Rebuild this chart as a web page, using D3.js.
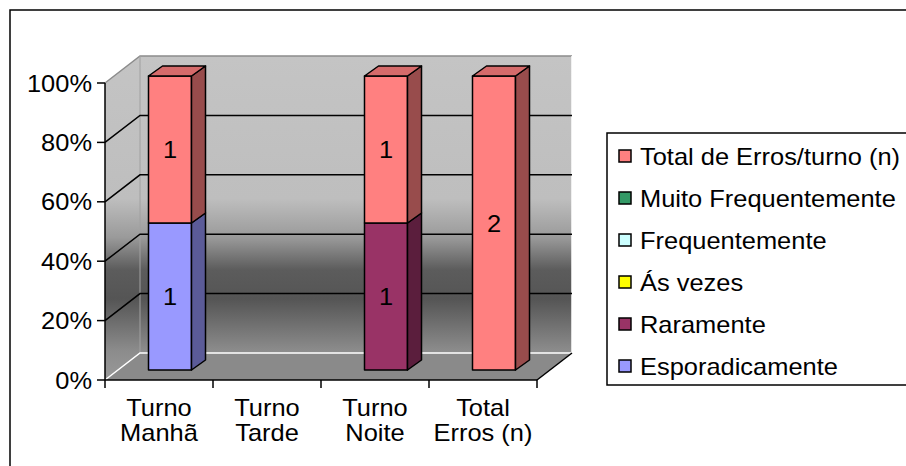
<!DOCTYPE html>
<html>
<head>
<meta charset="utf-8">
<script src="https://cdn.jsdelivr.net/npm/d3@7"></script>
<style>
  body { margin: 0; background: #fff; }
  text { font-family: "Liberation Sans", Arial, sans-serif; fill: #000; }
</style>
</head>
<body>
<div id="chart"></div>
<script>
// categories and series
var categories = ["Turno Manhã", "Turno Tarde", "Turno Noite", "Total Erros (n)"];
var seriesNames = ["Esporadicamente", "Raramente", "Ás vezes", "Frequentemente", "Muito Frequentemente", "Total de Erros/turno (n)"];
var esporadicamente = [1, 0, 0, 0];
var raramente = [0, 0, 1, 0];
var asVezes = [0, 0, 0, 0];
var frequentemente = [0, 0, 0, 0];
var muitoFrequentemente = [0, 0, 0, 0];
var totalErros = [1, 0, 1, 2];
var yTicks = [0, 0.2, 0.4, 0.6, 0.8, 1];

var colors = ["#9999ff", "#993366", "#ffff00", "#ccffff", "#339966", "#ff8080"];

var width = 906, height = 466;
var dx = 35, dy = -27;          // depth of the walls
var bdx = 14, bdy = -10;        // depth of a bar
var sx = 1.06;                  // the text in the original is a bit wide
var fs = "24px";

var svg = d3.select("#chart").append("svg")
    .attr("width", width)
    .attr("height", height);

// outer border
svg.append("rect")
    .attr("x", 10).attr("y", 10)
    .attr("width", 1000).attr("height", 1000)
    .attr("fill", "none").attr("stroke", "#000").attr("stroke-width", 1.5);

var x = d3.scaleBand().domain(categories).range([105, 537]);
var y = d3.scaleLinear().domain([0, 1]).range([380, 83]);
var yBar = d3.scaleLinear().domain([0, 1]).range([370, 76]);

// build table for stacking
var table = categories.map(function(c, i) {
  return {
    cat: c,
    s0: esporadicamente[i], s1: raramente[i], s2: asVezes[i],
    s3: frequentemente[i], s4: muitoFrequentemente[i], s5: totalErros[i]
  };
});
var keys = ["s0", "s1", "s2", "s3", "s4", "s5"];
var stacked = d3.stack().keys(keys).offset(d3.stackOffsetExpand)(table);

// wall gradient
var defs = svg.append("defs");
var grad = defs.append("linearGradient")
    .attr("id", "wall")
    .attr("gradientUnits", "userSpaceOnUse")
    .attr("x1", 0).attr("x2", 0).attr("y1", 56).attr("y2", 380);
[[0, "#c4c4c4"], [0.44, "#bebebe"], [0.56, "#9a9a9a"], [0.66, "#5c5c5c"], [0.75, "#555555"], [0.91, "#8c8c8c"], [1, "#999999"]]
  .forEach(function(s) {
    grad.append("stop").attr("offset", s[0]).attr("stop-color", s[1]);
  });

var x0 = x.range()[0], x1 = x.range()[1];
function pts(a) { return a.map(function(p) { return p.join(","); }).join(" "); }

// side wall
svg.append("polygon")
    .attr("points", pts([[x0, y(1)], [x0 + dx, y(1) + dy], [x0 + dx, y(0) + dy], [x0, y(0)]]))
    .attr("fill", "url(#wall)");
// back wall
svg.append("polygon")
    .attr("points", pts([[x0 + dx, y(1) + dy], [x1 + dx, y(1) + dy], [x1 + dx, y(0) + dy], [x0 + dx, y(0) + dy]]))
    .attr("fill", "url(#wall)");
// floor
svg.append("polygon")
    .attr("points", pts([[x0, y(0)], [x1, y(0)], [x1 + dx, y(0) + dy], [x0 + dx, y(0) + dy]]))
    .attr("fill", "#8a8a8a");

// wall edges
svg.append("path")
    .attr("d", "M" + x0 + "," + y(1) + "L" + (x0 + dx) + "," + (y(1) + dy) + "H" + (x1 + dx))
    .attr("fill", "none").attr("stroke", "#8c8c8c").attr("stroke-width", 1.5);
svg.append("line")
    .attr("x1", x0 + dx).attr("x2", x0 + dx).attr("y1", y(1) + dy).attr("y2", y(0) + dy)
    .attr("stroke", "#a0a0a0").attr("stroke-width", 1);
svg.append("path")
    .attr("d", "M" + x0 + "," + y(0) + "L" + (x0 + dx) + "," + (y(0) + dy) + "H" + (x1 + dx) + "V" + (y(1) + dy))
    .attr("fill", "none").attr("stroke", "#fff").attr("stroke-width", 1.5);

// gridlines
var grid = svg.append("g");
yTicks.filter(function(t) { return t > 0 && t < 1; }).forEach(function(t) {
  grid.append("path")
      .attr("d", "M" + x0 + "," + y(t) + "L" + (x0 + dx) + "," + (y(t) + dy) + "H" + (x1 + dx))
      .attr("fill", "none").attr("stroke", "#000").attr("stroke-width", 1.5);
});

// floor right edge
svg.append("line")
    .attr("x1", x1).attr("y1", y(0)).attr("x2", x1 + dx).attr("y2", y(0) + dy)
    .attr("stroke", "#000").attr("stroke-width", 1.5);

// bars
var barW = 43;
function shade(c, k) { return d3.color(c).darker(k).formatHex(); }
var bars = svg.append("g");
stacked.forEach(function(layer, si) {
  layer.forEach(function(d, ci) {
    var a = d[0], b = d[1];
    if (isNaN(a) || isNaN(b) || b - a <= 0) return;
    var bx = x(categories[ci]) + x.bandwidth() / 2 + 11 - barW / 2;
    var yt = yBar(b), yb = yBar(a);
    var c = colors[si];
    var g = bars.append("g").attr("stroke", "#000").attr("stroke-width", 1.5).attr("stroke-linejoin", "round");
    g.append("rect")
        .attr("x", bx).attr("y", yt).attr("width", barW).attr("height", yb - yt)
        .attr("fill", c);
    g.append("polygon")
        .attr("points", pts([[bx + barW, yt], [bx + barW + bdx, yt + bdy], [bx + barW + bdx, yb + bdy], [bx + barW, yb]]))
        .attr("fill", shade(c, 1.45));
    if (b >= 0.999) {
      g.append("polygon")
          .attr("points", pts([[bx, yt], [bx + bdx, yt + bdy], [bx + barW + bdx, yt + bdy], [bx + barW, yt]]))
          .attr("fill", shade(c, 0.5));
    }
    var val = table[ci][keys[si]];
    bars.append("g")
        .attr("transform", "translate(" + (bx + barW / 2) + "," + ((yt + yb) / 2) + ") scale(" + sx + ",1)")
      .append("text")
        .attr("text-anchor", "middle").attr("dy", "0.36em")
        .style("font-size", fs)
        .text(val);
  });
});

// axes
var axis = svg.append("g").attr("stroke", "#000").attr("stroke-width", 1.5);
axis.append("line").attr("x1", x0).attr("x2", x0).attr("y1", y(1)).attr("y2", y(0));
axis.append("line").attr("x1", x0).attr("x2", x1).attr("y1", y(0)).attr("y2", y(0));
yTicks.forEach(function(t) {
  axis.append("line").attr("x1", x0 - 8).attr("x2", x0).attr("y1", y(t)).attr("y2", y(t));
  svg.append("g")
      .attr("transform", "translate(92," + y(t) + ") scale(" + sx + ",1)")
    .append("text")
      .attr("text-anchor", "end").attr("dy", "0.36em")
      .style("font-size", fs)
      .text(d3.format(".0%")(t));
});
var xt = [x0].concat(categories.map(function(c) { return x(c) + x.bandwidth(); }));
xt.forEach(function(v) {
  axis.append("line").attr("x1", v).attr("x2", v).attr("y1", y(0)).attr("y2", y(0) + 8);
});
categories.forEach(function(c) {
  var words = c.split(" ");
  var lines = [words[0], words.slice(1).join(" ")];
  var t = svg.append("g")
      .attr("transform", "translate(" + (x(c) + x.bandwidth() / 2) + ",416) scale(" + sx + ",1)")
    .append("text")
      .attr("text-anchor", "middle")
      .style("font-size", fs);
  lines.forEach(function(l, i) {
    t.append("tspan").attr("x", 0).attr("y", i * 25).text(l);
  });
});

// legend
var legend = svg.append("g");
legend.append("rect")
    .attr("x", 607).attr("y", 133).attr("width", 400).attr("height", 252)
    .attr("fill", "#fff").attr("stroke", "#000").attr("stroke-width", 1.5);
var order = d3.range(seriesNames.length).reverse();
order.forEach(function(si, i) {
  var cy = 156 + i * 42;
  legend.append("rect")
      .attr("x", 619).attr("y", cy - 6).attr("width", 12).attr("height", 12)
      .attr("fill", colors[si]).attr("stroke", "#000").attr("stroke-width", 1.5);
  legend.append("g")
      .attr("transform", "translate(640," + cy + ") scale(" + sx + ",1)")
    .append("text")
      .attr("dy", "0.36em")
      .style("font-size", fs)
      .text(seriesNames[si]);
});
</script>
</body>
</html>
